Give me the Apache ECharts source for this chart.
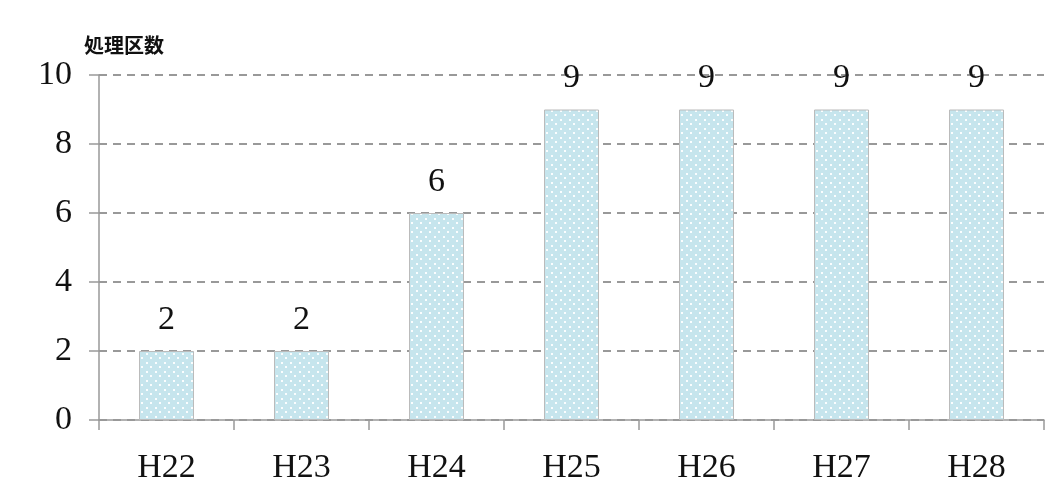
<!DOCTYPE html>
<html>
<head>
<meta charset="utf-8">
<script src="https://cdn.jsdelivr.net/npm/echarts@6/dist/echarts.min.js"></script>
<style>
  html, body { margin: 0; padding: 0; background: #fff; }
  #chart { width: 1060px; height: 499px; }
</style>
</head>
<body>
<div id="chart"></div>
<script>
  var categories = ['H22', 'H23', 'H24', 'H25', 'H26', 'H27', 'H28']
  var values = [2, 2, 6, 9, 9, 9, 9]
  var yTicks = [0, 2, 4, 6, 8, 10]

  // dotted fill like the original bars
  function dotPattern () {
    var c = document.createElement('canvas')
    c.width = 9
    c.height = 9
    var ctx = c.getContext('2d')
    ctx.fillStyle = '#c6e5ed'
    ctx.fillRect(0, 0, 9, 9)
    ctx.fillStyle = 'rgba(255,255,255,0.9)'
    ctx.fillRect(2, 2, 2, 2)
    ctx.fillRect(6, 6, 2, 2)
    return c
  }

  var serif = '"Liberation Serif", "DejaVu Serif", serif'
  var chart = echarts.init(document.getElementById('chart'))
  var option = {
    animation: false,
    title: {
      text: '処理区数',
      left: 79,
      top: 30,
      textStyle: {
        fontFamily: '"Noto Sans CJK JP"',
        fontSize: 20,
        fontWeight: 'bold',
        color: '#111'
      }
    },
    grid: { left: 99, right: 16, top: 75, bottom: 79 },
    xAxis: {
      type: 'category',
      data: categories,
      axisLine: { lineStyle: { color: '#999', width: 1.5 } },
      axisTick: { show: true, length: 10, lineStyle: { color: '#999', width: 1.5 } },
      axisLabel: { margin: 31, fontFamily: serif, fontSize: 34, color: '#111' }
    },
    yAxis: {
      type: 'value',
      min: yTicks[0],
      max: yTicks[yTicks.length - 1],
      interval: 2,
      axisLine: { show: true, lineStyle: { color: '#999', width: 1.5 } },
      axisTick: { show: true, length: 10, lineStyle: { color: '#999', width: 1.5 } },
      axisLabel: { margin: 27, fontFamily: serif, fontSize: 34, color: '#111' },
      splitLine: { lineStyle: { color: '#999', width: 2, type: [8, 6] } }
    },
    series: [
      {
        type: 'bar',
        data: values,
        barWidth: 55,
        itemStyle: {
          color: { image: dotPattern(), repeat: 'repeat' },
          borderColor: '#bbb',
          borderWidth: 1
        },
        label: {
          show: true,
          position: 'top',
          distance: 14,
          fontFamily: serif,
          fontSize: 34,
          color: '#111'
        }
      }
    ]
  }
  chart.setOption(option)
  window.addEventListener('resize', () => {
    chart.resize()
  })
</script>
</body>
</html>
